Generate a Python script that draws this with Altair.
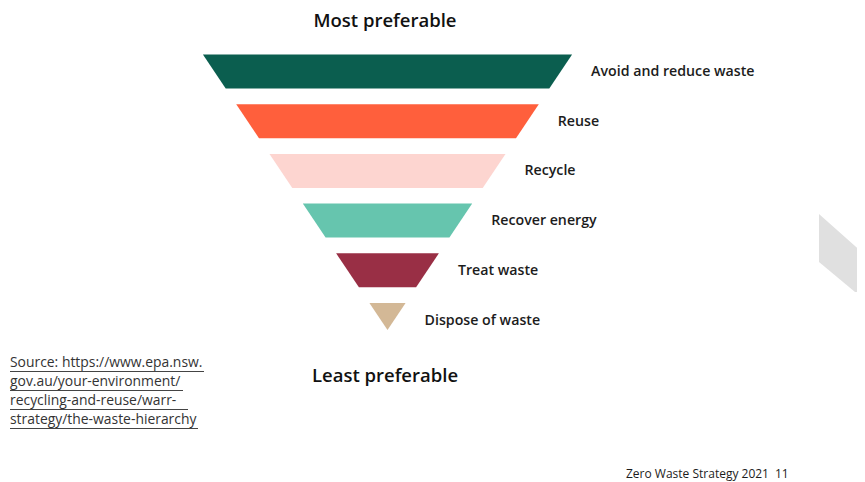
import altair as alt
import pandas as pd

# ---- data ----
levels = ["Avoid and reduce waste", "Reuse", "Recycle", "Recover energy",
          "Treat waste", "Dispose of waste"]
colors = ["#0b5e4f", "#ff5f3c", "#fdd5d0", "#66c5ae", "#992f45", "#d3b896"]
titles = ["Most preferable", "Least preferable"]
source_lines = ["Source: https://www.epa.nsw.", "gov.au/your-environment/",
                "recycling-and-reuse/warr-", "strategy/the-waste-hierarchy"]
source_widths = [194, 173, 178, 188]
footer = ["Zero Waste Strategy 2021", "11"]

# ---- layout (page pixel units) ----
W, H = 849, 474
CX, TOP, PITCH, BAND_H, APEX, SLOPE = 387.5, 54.5, 49.7, 34, 330, 0.67
FONT = "Open Sans"


def hw(y):
    return (APEX - y) * SLOPE


band_rows, label_rows = [], []
for i, lv in enumerate(levels):
    y0 = TOP + i * PITCH
    y1 = min(y0 + BAND_H, APEX)
    for y in (y0, y1):
        band_rows.append({"level": lv, "y": y, "left": CX - hw(y), "right": CX + hw(y)})
    label_rows.append({"text": lv, "x": CX + hw(y0) + 19, "y": y0 + BAND_H / 2 + 0.5})

bands = pd.DataFrame(band_rows)
labels = pd.DataFrame(label_rows)
title_df = pd.DataFrame({"text": titles, "x": [CX - 2.5, CX - 2.5], "y": [21, 376]})
src_y = [363 + 19 * k for k in range(len(source_lines))]
src_df = pd.DataFrame({"text": source_lines, "x": [10] * 4, "y": src_y,
                       "ux": [10] * 4, "ux2": [10 + w for w in source_widths],
                       "uy": [v + 8.5 for v in src_y]})
foot_df = pd.DataFrame({"text": footer, "x": [626, 775], "y": [474, 474]})
deco = pd.DataFrame({"y": [214, 255, 262, 292], "left": [819, 819, 819, 855],
                     "right": [819, 865, 865, 865]})

xs = alt.Scale(domain=[8, 8 + W], nice=False, zero=False)
ys = alt.Scale(domain=[8, 8 + H], nice=False, zero=False, reverse=True)

area = alt.Chart(bands).mark_area(orient="horizontal").encode(
    y=alt.Y("y:Q", scale=ys, axis=None),
    x=alt.X("left:Q", scale=xs, axis=None),
    x2="right:Q",
    color=alt.Color("level:N", scale=alt.Scale(domain=levels, range=colors), legend=None),
    detail="level:N",
)

deco_area = alt.Chart(deco).mark_area(orient="horizontal", color="#e0e0e0").encode(
    y=alt.Y("y:Q", scale=ys, axis=None),
    x=alt.X("left:Q", scale=xs, axis=None),
    x2="right:Q",
)

def text_layer(df, size, weight, color, align="left"):
    return alt.Chart(df).mark_text(font=FONT, fontSize=size, fontWeight=weight,
                                   color=color, align=align, baseline="middle").encode(
        x=alt.X("x:Q", scale=xs, axis=None),
        y=alt.Y("y:Q", scale=ys, axis=None),
        text="text:N",
    )

title_layer = text_layer(title_df, 18.5, 600, "#111111", "center")
label_layer = text_layer(labels, 14.2, 600, "#1c1c1c")
src_layer = text_layer(src_df, 13.9, 400, "#333333")
underline = alt.Chart(src_df).mark_rule(color="#444444", strokeWidth=1).encode(
    x=alt.X("ux:Q", scale=xs, axis=None), x2="ux2:Q",
    y=alt.Y("uy:Q", scale=ys, axis=None),
)
foot_layer = text_layer(foot_df, 12, 400, "#1c1c1c")

chart = alt.layer(deco_area, area, title_layer, label_layer, src_layer, underline,
                  foot_layer).properties(
    width=W, height=H, autosize=alt.AutoSizeParams(type="none"), padding=0,
    background="white",
).configure_view(stroke=None)

chart.save("out.html", embed_options={"renderer": "svg", "actions": False})
